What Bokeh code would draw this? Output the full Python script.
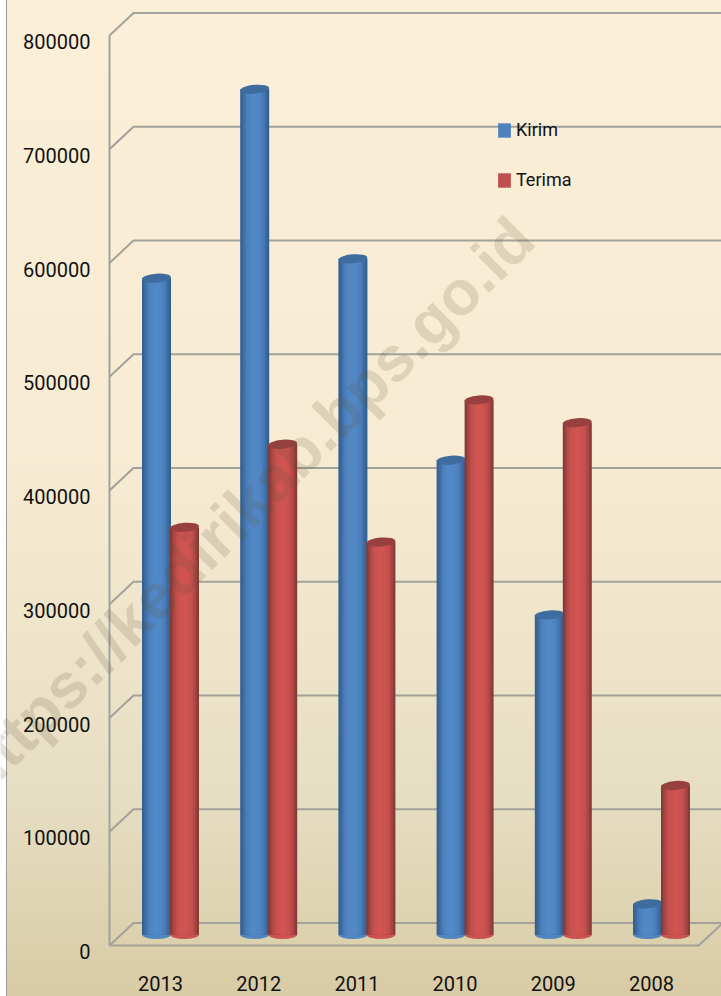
from bokeh.plotting import figure
from bokeh.embed import file_html
from bokeh.resources import INLINE
from bokeh.models import Label, Legend, LegendItem, LinearAxis, Range1d, FixedTicker

years = ["2013", "2012", "2011", "2010", "2009", "2008"]
kirim = [577000, 743000, 594000, 417000, 281000, 27000]
terima = [358000, 431000, 345000, 470000, 450000, 131000]
y_ticks = [0, 100000, 200000, 300000, 400000, 500000, 600000, 700000, 800000]
series_names = ["Kirim", "Terima"]
watermark = "https://kedirikab.bps.go.id"

W, H = 721, 996
LEFT, BOTTOM = 0, 44            # side panels, px
PX_X = 1 / 98.2                 # category units per px
PX_Y = 100000 / 113.75          # value units per px
FONT = "Roboto"

x0 = -(160 - LEFT) * PX_X
x1 = x0 + (W - LEFT) * PX_X
y0 = -7 * PX_Y
y1 = y0 + (H - BOTTOM) * PX_Y

p = figure(width=W, height=H, output_backend="svg", toolbar_location=None,
           x_range=Range1d(x0, x1), y_range=Range1d(y0, y1),
           x_axis_type=None, y_axis_type=None,
           min_border_left=LEFT, min_border_bottom=BOTTOM, min_border_top=0, min_border_right=0,
           background_fill_alpha=0, border_fill_alpha=0, outline_line_color=None)
p.grid.visible = False
p.styles = {"position": "fixed", "left": "0", "top": "0",
            "background": "linear-gradient(to right, #ffffff 6px, #9a9a9a 6px, #9a9a9a 7px, transparent 7px),"
                          "linear-gradient(to bottom, #fbefd7 0%, #f7ecd3 45%, #e6dec3 80%, #d8cba5 100%)"}

# axes: tick labels sit 6px under the front plane's lines
p.extra_y_ranges["labels"] = Range1d(y0 + 6 * PX_Y, y1 + 6 * PX_Y)
ya = LinearAxis(y_range_name="labels", ticker=FixedTicker(ticks=y_ticks), axis_line_color=None,
                major_tick_line_color=None, minor_tick_line_color=None,
                major_label_text_font=FONT, major_label_text_font_size="20px",
                major_label_text_color="#111111", major_label_standoff=-96)
ya.formatter.use_scientific = False
p.add_layout(ya, "left")
xa = LinearAxis(ticker=FixedTicker(ticks=list(range(len(years)))),
                major_label_overrides={i: y for i, y in enumerate(years)},
                axis_line_color=None, major_tick_line_color=None, minor_tick_line_color=None,
                major_label_text_font=FONT, major_label_text_font_size="20px",
                major_label_text_color="#111111", major_label_standoff=17)
p.add_layout(xa, "below")

# walls and gridlines
GRID = "#a2a29a"
DX, DY = 24 * PX_X, 22.5 * PX_Y
wall = x0 + 109 * PX_X
front_end = wall + len(years)
for t in y_ticks:
    p.line([wall, wall + DX, x1], [t, t + DY, t + DY], line_color=GRID, line_width=2)
p.line([wall, wall], [y_ticks[0], y_ticks[-1]], line_color=GRID, line_width=2)
p.line([wall, front_end, front_end + DX], [0, 0, DY], line_color=GRID, line_width=2)

# cylinders: nested columns, outer dark to inner light
BAR = 29 * PX_X
BASE = 11 * PX_Y
blue_shades = ["#35618f", "#3c6ba2", "#4577b2", "#4c80bc", "#5085c2", "#5287c6", "#5388c7"]
red_shades = ["#883a38", "#a04342", "#b54b49", "#c4504e", "#cb5250", "#ce5351", "#cf5452"]
TOPS = {"k": "#3e6c9f", "t": "#97403e"}


def cylinder(i, v, offset, shades, top):
    xc = i + offset
    p.ellipse([xc], [BASE], width=29, height=9, width_units="screen", height_units="screen",
              fill_color=shades[4], line_color=None)
    n = len(shades)
    for s in range(n):
        p.vbar(x=[xc], bottom=[BASE], top=[BASE + v], width=BAR * (1 - s / n),
               fill_color=shades[s], line_color=None)
    p.ellipse([xc], [BASE + v], width=29, height=9, angle=0.08, width_units="screen", height_units="screen",
              fill_color=top, line_color=None)


for i in range(len(years)):
    cylinder(i, kirim[i], -4 * PX_X, blue_shades, TOPS["k"])
    cylinder(i, terima[i], 24 * PX_X, red_shades, TOPS["t"])

# legend
k_sw = p.vbar(x=[0], bottom=[0], top=[0], width=0, fill_color="#4f81bd", line_color=None)
t_sw = p.vbar(x=[0], bottom=[0], top=[0], width=0, fill_color="#c0504d", line_color=None)
legend = Legend(items=[LegendItem(label=series_names[0], renderers=[k_sw]),
                       LegendItem(label=series_names[1], renderers=[t_sw])],
                location=(496, 762), orientation="vertical", glyph_width=16, glyph_height=18,
                label_standoff=4, spacing=29, padding=0, margin=0, label_height=14,
                background_fill_alpha=0, border_line_color=None,
                label_text_font=FONT, label_text_font_size="18px", label_text_color="#111111")
p.add_layout(legend)

# watermark
p.add_layout(Label(x=245, y=447, x_units="screen", y_units="screen", text=watermark,
                   angle=45, angle_units="deg", text_align="center", text_baseline="middle",
                   text_font="Liberation Sans", text_font_style="bold", text_font_size="63px",
                   text_color="#5f5238", text_alpha=0.17))

open("out.html", "w").write(file_html(p, INLINE))
